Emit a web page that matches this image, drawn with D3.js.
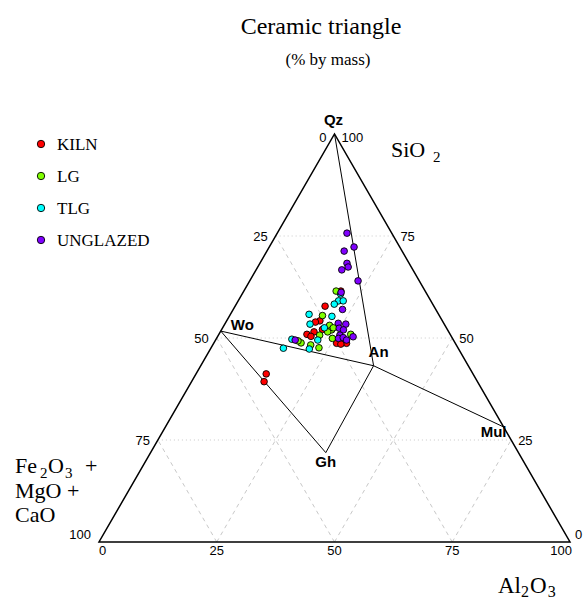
<!DOCTYPE html>
<html>
<head>
<meta charset="utf-8">
<script src="https://cdn.jsdelivr.net/npm/d3@7"></script>
<style>
body { margin: 0; background: #fff; }
</style>
</head>
<body>
<script>
// composition of each sherd: [SiO2, Al2O3, Fe2O3+MgO+CaO] in % by mass
var kiln = [
    [41.2, 14.9, 43.9], [39.3, 15.4, 45.3], [57.8, 19.1, 23.1], [61.5, 20.6, 17.9],
    [54.2, 19.8, 26.0], [53.9, 19.0, 27.1], [52.1, 21.4, 26.5], [51.5, 19.9, 28.6],
    [50.9, 18.7, 30.4], [50.4, 19.8, 29.8], [48.7, 26.1, 25.2], [48.7, 28.2, 23.1],
    [48.5, 27.1, 24.4]
];
var lg = [
    [61.5, 19.6, 18.9], [55.5, 19.7, 24.8], [53.1, 22.4, 24.5], [52.0, 23.4, 24.6],
    [50.7, 21.5, 27.8], [48.8, 18.5, 32.7], [49.3, 17.6, 33.1], [48.3, 20.8, 30.9],
    [47.6, 22.9, 29.5], [49.9, 24.6, 25.5], [52.5, 23.5, 24.0], [51.5, 22.8, 25.7],
    [50.9, 28.0, 21.1]
];
var tlg = [
    [60.8, 20.9, 18.3], [59.1, 21.3, 19.6], [59.1, 22.3, 18.6], [58.3, 20.8, 20.9],
    [55.8, 16.7, 27.5], [55.3, 21.8, 22.9], [53.4, 18.1, 28.5], [52.5, 21.6, 25.9],
    [49.5, 21.7, 28.8], [49.7, 16.1, 34.2], [47.5, 15.4, 37.1], [47.3, 21.0, 31.7]
];
var unglazed = [
    [75.7, 14.8, 9.5], [72.3, 18.0, 9.7], [71.3, 16.4, 12.3], [68.3, 18.5, 13.2],
    [67.4, 19.2, 13.4], [66.7, 18.2, 15.1], [64.0, 23.0, 13.0], [61.2, 20.8, 18.0],
    [57.0, 23.2, 19.8], [53.6, 24.0, 22.4], [53.4, 25.7, 20.9], [52.4, 24.8, 22.8],
    [52.0, 25.9, 22.1], [50.7, 25.8, 23.5], [49.9, 25.9, 24.2], [50.1, 26.8, 23.1],
    [50.3, 28.8, 20.9], [49.5, 27.8, 22.7], [49.5, 16.9, 33.6]
];

var groups = ["KILN", "LG", "TLG", "UNGLAZED"];
var groupColors = ["#FF0000", "#80FF00", "#00FFFF", "#8000FF"];

// reference minerals [SiO2, Al2O3, CaO]
var minerals = ["Qz", "Wo", "An", "Gh", "Mul"];
var mineralComp = [[100, 0, 0], [51.7, 0, 48.3], [43.2, 36.7, 20.1], [21.9, 37.2, 40.9], [28.2, 71.8, 0]];
var tieLines = [["Qz", "An"], ["Wo", "An"], ["An", "Mul"], ["Wo", "Gh"], ["An", "Gh"]];

var ticks = [0, 25, 50, 75, 100];

var W = 584, H = 599;
var x0 = 99, y0 = 542, side = 471, tall = 408;

var sScale = d3.scaleLinear().domain([0, 100]).range([y0, y0 - tall]);
var wScale = d3.scaleLinear().domain([0, 100]).range([0, side]);

// s = SiO2, a = Al2O3 (the third part is implied)
var proj = (s, a) => [x0 + wScale(a) + wScale(s) / 2, sScale(s)];

var svg = d3.select("body").append("svg")
            .attr("width", W)
            .attr("height", H)
            .style("display", "block");

var serif = "'Liberation Serif', 'Times New Roman', serif";
var sans = "'Liberation Sans', Arial, Helvetica, sans-serif";

// titles
svg.append("text").attr("x", 321).attr("y", 34)
    .attr("text-anchor", "middle").attr("font-family", serif).attr("font-size", 24)
    .text("Ceramic triangle");
svg.append("text").attr("x", 328).attr("y", 65)
    .attr("text-anchor", "middle").attr("font-family", serif).attr("font-size", 17)
    .text("(% by mass)");

// grid
var grid = svg.append("g").attr("fill", "none").attr("stroke", "#c8c8c8").attr("stroke-width", 1);
[25, 50, 75].forEach(v => {
    // constant SiO2
    var p1 = proj(v, 0), p2 = proj(v, 100 - v);
    grid.append("line").attr("x1", p1[0]).attr("y1", p1[1]).attr("x2", p2[0]).attr("y2", p2[1])
        .attr("stroke-dasharray", "1,3");
    // constant Al2O3
    var q1 = proj(0, v), q2 = proj(100 - v, v);
    grid.append("line").attr("x1", q1[0]).attr("y1", q1[1]).attr("x2", q2[0]).attr("y2", q2[1])
        .attr("stroke-dasharray", "4,4");
    // constant CaO
    var r1 = proj(0, 100 - v), r2 = proj(100 - v, 0);
    grid.append("line").attr("x1", r1[0]).attr("y1", r1[1]).attr("x2", r2[0]).attr("y2", r2[1])
        .attr("stroke-dasharray", "4,4");
});

// triangle
var corners = [proj(0, 0), proj(0, 100), proj(100, 0)];
svg.append("path")
    .attr("d", d3.line()(corners) + "Z")
    .attr("fill", "none")
    .attr("stroke", "#000")
    .attr("stroke-width", 1.5)
    .attr("stroke-linejoin", "miter");

// tie lines between minerals
var mpos = {};
minerals.forEach((m, i) => { mpos[m] = proj(mineralComp[i][0], mineralComp[i][1]); });
svg.append("g").selectAll("line").data(tieLines).join("line")
    .attr("x1", d => mpos[d[0]][0]).attr("y1", d => mpos[d[0]][1])
    .attr("x2", d => mpos[d[1]][0]).attr("y2", d => mpos[d[1]][1])
    .attr("stroke", "#000").attr("stroke-width", 1);

// mineral labels, offsets from each point
var mOff = { Qz: [-1, -9, "middle"], Wo: [10, -1, "start"], An: [5, -9, "middle"], Gh: [0, 14, "middle"], Mul: [-10, 10, "middle"] };
svg.append("g").selectAll("text").data(minerals).join("text")
    .attr("x", d => mpos[d][0] + mOff[d][0])
    .attr("y", d => mpos[d][1] + mOff[d][1])
    .attr("text-anchor", d => mOff[d][2])
    .attr("font-family", sans).attr("font-weight", "bold").attr("font-size", 15)
    .text(d => d);

// tick labels
var tk = svg.append("g").attr("font-family", sans).attr("font-size", 13).attr("fill", "#000");
ticks.forEach(v => {
    // bottom: Al2O3
    var b = proj(0, v);
    tk.append("text").attr("x", v == 100 ? b[0] + 2 : b[0]).attr("y", b[1] + 13)
        .attr("text-anchor", v == 0 ? "start" : (v == 100 ? "end" : "middle"))
        .text(v);
    // left: Fe2O3 + MgO + CaO (0 at top)
    var l = proj(100 - v, 0);
    var ly = l[1] + 4.5 + (v == 0 ? 3.5 : 0) - (v == 100 ? 7.5 : 0);
    tk.append("text").attr("x", l[0] - 8).attr("y", ly).attr("text-anchor", "end").text(v);
    // right: SiO2
    var r = proj(v, 100 - v);
    var ry = r[1] + 4.5 + (v == 100 ? 3.5 : 0) - (v == 0 ? 8 : 0);
    tk.append("text").attr("x", r[0] + (v == 0 ? 5 : 7)).attr("y", ry).attr("text-anchor", "start").text(v);
});

// axis names
var sio2 = svg.append("text").attr("x", 391).attr("y", 157)
    .attr("font-family", serif).attr("font-size", 22);
sio2.append("tspan").text("SiO");
sio2.append("tspan").attr("x", 433).attr("font-size", 15).attr("dy", 5).text("2");

var fe = svg.append("g").attr("font-family", serif).attr("font-size", 22);
var fe1 = fe.append("text").attr("x", 15).attr("y", 473);
fe1.append("tspan").text("Fe");
fe1.append("tspan").attr("x", 40).attr("font-size", 15).attr("dy", 5).text("2");
fe1.append("tspan").attr("x", 48).attr("dy", -5).text("O");
fe1.append("tspan").attr("x", 65).attr("font-size", 15).attr("dy", 5).text("3");
fe1.append("tspan").attr("x", 85).attr("dy", -5).text("+");
fe.append("text").attr("x", 15).attr("y", 498).text("MgO +");
fe.append("text").attr("x", 15).attr("y", 522).text("CaO");

var al = svg.append("text").attr("x", 498).attr("y", 593)
    .attr("font-family", serif).attr("font-size", 23);
al.append("tspan").text("Al");
al.append("tspan").attr("font-size", 16).attr("dy", 4).text("2");
al.append("tspan").attr("dx", 1).attr("dy", -4).text("O");
al.append("tspan").attr("dx", 1).attr("font-size", 16).attr("dy", 4).text("3");

// points
var series = [kiln, lg, tlg, unglazed];
series.forEach((pts, i) => {
    svg.append("g").selectAll("circle").data(pts).join("circle")
        .attr("cx", d => proj(d[0], d[1])[0])
        .attr("cy", d => proj(d[0], d[1])[1])
        .attr("r", 3.3)
        .attr("fill", groupColors[i])
        .attr("stroke", "#000")
        .attr("stroke-width", 0.9);
});

// legend
var leg = svg.append("g");
groups.forEach((g, i) => {
    var y = 144 + i * 32;
    leg.append("circle").attr("cx", 41).attr("cy", y).attr("r", 3.7)
        .attr("fill", groupColors[i]).attr("stroke", "#000").attr("stroke-width", 0.9);
    leg.append("text").attr("x", 57).attr("y", y + 6)
        .attr("font-family", serif).attr("font-size", 17).text(g);
});
</script>
</body>
</html>
